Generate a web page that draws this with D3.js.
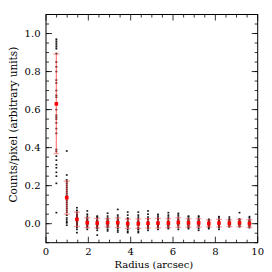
<!DOCTYPE html>
<html>
<head>
<meta charset="utf-8">
<script src="https://cdn.jsdelivr.net/npm/d3@7"></script>
<style>
  html, body { margin: 0; padding: 0; background: #fff; }
  svg { display: block; }
  text { font-family: "DejaVu Serif", serif; fill: #000; }
</style>
</head>
<body>
<div id="chart"></div>
<script>
// Radial profile: per-pixel values (black), annulus mean +/- sd (red)

const radii = [0.49, 0.98, 1.46, 1.95, 2.42, 2.91, 3.39, 3.86, 4.36, 4.82,
               5.29, 5.78, 6.25, 6.73, 7.21, 7.69, 8.17, 8.66, 9.14, 9.61];

const means = [0.630, 0.137, 0.023, 0.005, 0.003, 0.005, 0.005, 0.000, 0.000, 0.002,
               0.003, 0.003, 0.006, 0.004, 0.004, 0.001, 0.003, 0.002, 0.004, 0.001];

const sds = [0.262, 0.087, 0.038, 0.026, 0.025, 0.022, 0.025, 0.025, 0.025, 0.025,
             0.025, 0.024, 0.025, 0.022, 0.022, 0.018, 0.020, 0.018, 0.020, 0.020];

const pixelValues = [
  [0.97, 0.96, 0.95, 0.94, 0.93, 0.92, 0.895, 0.85, 0.825, 0.80, 0.755, 0.74, 0.70, 0.675, 0.665,
   0.60, 0.57, 0.56, 0.55, 0.53, 0.50, 0.475, 0.39, 0.38, 0.355, 0.334, 0.31, 0.294, 0.27, 0.25, 0.212, 0.058],
  [0.382, 0.256, 0.23, 0.22, 0.21, 0.20, 0.19, 0.18, 0.17, 0.16, 0.15, 0.14, 0.13, 0.12, 0.11,
   0.10, 0.09, 0.08, 0.07, 0.06, 0.045, 0.03, 0.02, 0.01, 0.004, -0.008],
  [0.084, 0.07, 0.06, 0.05, 0.045, 0.04, 0.035, 0.03, 0.025, 0.02, 0.015, 0.01, 0.005, 0.0,
   -0.005, -0.01, -0.02, -0.03, -0.047],
  [0.067, 0.05, 0.04, 0.03, 0.025, 0.02, 0.015, 0.01, 0.005, 0.0, -0.005, -0.01, -0.015, -0.02, -0.03],
  [0.04, 0.035, 0.03, 0.02, 0.015, 0.01, 0.005, 0.0, -0.005, -0.01, -0.015, -0.02, -0.025, -0.035, -0.06],
  [0.055, 0.04, 0.03, 0.025, 0.02, 0.015, 0.01, 0.005, 0.0, -0.005, -0.01, -0.015, -0.02, -0.03, -0.038],
  [0.075, 0.045, 0.035, 0.025, 0.02, 0.015, 0.01, 0.005, 0.0, -0.005, -0.01, -0.015, -0.025, -0.035, -0.044],
  [0.061, 0.045, 0.03, 0.025, 0.02, 0.01, 0.005, 0.0, -0.005, -0.01, -0.015, -0.02, -0.03, -0.04, -0.047],
  [0.061, 0.045, 0.035, 0.025, 0.015, 0.01, 0.005, 0.0, -0.005, -0.01, -0.02, -0.025, -0.03, -0.04, -0.047],
  [0.067, 0.05, 0.035, 0.025, 0.02, 0.01, 0.005, 0.0, -0.005, -0.01, -0.015, -0.02, -0.025, -0.035],
  [0.049, 0.04, 0.03, 0.025, 0.02, 0.01, 0.005, 0.0, -0.005, -0.01, -0.015, -0.02, -0.03],
  [0.058, 0.045, 0.035, 0.025, 0.015, 0.01, 0.005, 0.0, -0.005, -0.01, -0.015, -0.02, -0.026],
  [0.054, 0.045, 0.035, 0.025, 0.02, 0.015, 0.01, 0.005, 0.0, -0.005, -0.01, -0.02, -0.03],
  [0.04, 0.035, 0.025, 0.02, 0.015, 0.01, 0.005, 0.0, -0.005, -0.01, -0.015, -0.02, -0.026],
  [0.04, 0.035, 0.025, 0.02, 0.015, 0.01, 0.005, 0.0, -0.005, -0.01, -0.015, -0.025, -0.035],
  [0.023, 0.02, 0.015, 0.01, 0.005, 0.0, -0.005, -0.01, -0.015, -0.02, -0.026],
  [0.037, 0.03, 0.02, 0.015, 0.01, 0.005, 0.0, -0.005, -0.01, -0.015, -0.02, -0.03],
  [0.035, 0.025, 0.02, 0.015, 0.01, 0.005, 0.0, -0.005, -0.01, -0.016],
  [0.058, 0.025, 0.02, 0.015, 0.01, 0.005, 0.0, -0.005, -0.01, -0.016],
  [0.037, 0.03, 0.02, 0.015, 0.01, 0.005, 0.0, -0.005, -0.01, -0.015, -0.021]
];

const xTickLabels = [0, 2, 4, 6, 8, 10];
const yTickLabels = [0.0, 0.2, 0.4, 0.6, 0.8, 1.0];

const width = 272, height = 272;
const margin = { top: 14.5, right: 14.3, bottom: 29.3, left: 46 };
const iw = width - margin.left - margin.right;
const ih = height - margin.top - margin.bottom;

const svg = d3.select('#chart').append('svg')
  .attr('width', width)
  .attr('height', height);

const g = svg.append('g')
  .attr('transform', `translate(${margin.left},${margin.top})`);

const x = d3.scaleLinear().domain([0, 10]).range([0, iw]);
const y = d3.scaleLinear().domain([-0.1, 1.1]).range([ih, 0]);

// ticks: drawn inside the frame on all four sides
const xMinor = d3.range(0, 10.001, 0.5);
const yMinor = d3.range(-0.1, 1.1001, 0.05).map(v => Math.round(v * 100) / 100);

function tickSide(vals, len, side) {
  vals.forEach(v => {
    const isX = side === 'bottom' || side === 'top';
    const p = isX ? x(v) : y(v);
    let x1, x2, y1, y2;
    if (side === 'bottom') { x1 = x2 = p; y1 = ih; y2 = ih - len; }
    if (side === 'top') { x1 = x2 = p; y1 = 0; y2 = len; }
    if (side === 'left') { y1 = y2 = p; x1 = 0; x2 = len; }
    if (side === 'right') { y1 = y2 = p; x1 = iw; x2 = iw - len; }
    g.append('line')
      .attr('x1', x1).attr('x2', x2).attr('y1', y1).attr('y2', y2)
      .attr('stroke', '#000').attr('stroke-width', 0.8);
  });
}

['bottom', 'top'].forEach(s => {
  tickSide(xMinor.filter(v => v % 2 !== 0), 3, s);
  tickSide(xTickLabels, 6, s);
});
['left', 'right'].forEach(s => {
  tickSide(yMinor, 3, s);
  tickSide(yTickLabels, 6, s);
});

// frame
g.append('rect')
  .attr('width', iw).attr('height', ih)
  .attr('fill', 'none').attr('stroke', '#000').attr('stroke-width', 1);

// tick labels
g.selectAll('.xl').data(xTickLabels).enter().append('text')
  .attr('x', d => x(d)).attr('y', ih + 12.5)
  .attr('text-anchor', 'middle')
  .style('font-size', '10px')
  .text(d => d);

g.selectAll('.yl').data(yTickLabels).enter().append('text')
  .attr('x', -5.5).attr('y', d => y(d)).attr('dy', '0.35em')
  .attr('text-anchor', 'end')
  .style('font-size', '10px')
  .text(d => d.toFixed(1));

// axis titles
svg.append('text')
  .attr('x', margin.left + iw / 2 + 2).attr('y', 268)
  .attr('text-anchor', 'middle')
  .style('font-size', '10px')
  .text('Radius (arcsec)');

svg.append('text')
  .attr('transform', `translate(16.5,${margin.top + ih / 2 - 4}) rotate(-90)`)
  .attr('text-anchor', 'middle')
  .style('font-size', '10.5px')
  .text('Counts/pixel (arbitrary units)');

// individual pixel values
const dots = [];
pixelValues.forEach((vals, i) => vals.forEach(v => dots.push({ r: radii[i], v })));

g.selectAll('.dot').data(dots).enter().append('rect')
  .attr('x', d => x(d.r) - 0.9).attr('y', d => y(d.v) - 0.8)
  .attr('width', 1.8).attr('height', 1.6)
  .attr('fill', '#111');

// mean +/- sd per annulus
const stats = radii.map((r, i) => ({ r, m: means[i], s: sds[i] }));
const eb = g.selectAll('.eb').data(stats).enter().append('g');

eb.append('line')
  .attr('x1', d => x(d.r)).attr('x2', d => x(d.r))
  .attr('y1', d => y(d.m - d.s)).attr('y2', d => y(d.m + d.s))
  .attr('stroke', '#ff3030').attr('stroke-opacity', 0.6).attr('stroke-width', 1.3);

[-1, 1].forEach(k => {
  eb.append('line')
    .attr('x1', d => x(d.r) - 3).attr('x2', d => x(d.r) + 3)
    .attr('y1', d => y(d.m + k * d.s)).attr('y2', d => y(d.m + k * d.s))
    .attr('stroke', '#ff5050').attr('stroke-opacity', 0.55).attr('stroke-width', 1.2);
});

eb.append('rect')
  .attr('x', d => x(d.r) - 1.8).attr('y', d => y(d.m) - 1.8)
  .attr('width', 3.6).attr('height', 3.6)
  .attr('fill', '#ff0000');
</script>
</body>
</html>
